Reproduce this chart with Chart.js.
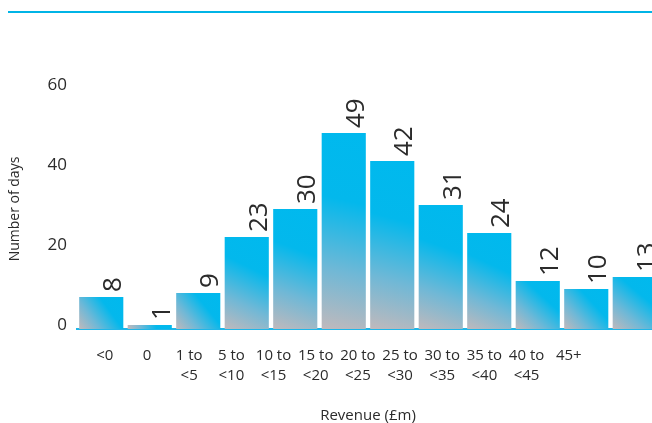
<!DOCTYPE html>
<html>
<head>
<meta charset="utf-8">
<script src="https://cdn.jsdelivr.net/npm/chart.js@4"></script>
<style>
  html, body { margin: 0; padding: 0; background: #fff; overflow: hidden; }
  #rule { position: absolute; left: 8px; top: 11px; width: 660px; height: 2px; background: #00b4e6; }
  #wrap { position: absolute; left: 0; top: 0; width: 659px; height: 423px; }
</style>
</head>
<body>
<div id="rule"></div>
<div id="wrap"><canvas id="chart1"></canvas></div>
<script>
// Revenue bands (£m) and number of days in each
const bands = ["<0", "0", ["1 to", "<5"], ["5 to", "<10"], ["10 to", "<15"], ["15 to", "<20"],
  ["20 to", "<25"], ["25 to", "<30"], ["30 to", "<35"], ["35 to", "<40"], ["40 to", "<45"], "45+"];
const days = [8, 1, 9, 23, 30, 49, 42, 31, 24, 12, 10, 13];
const yTicks = [0, 20, 40, 60];

const textColor = "#2b2b2b";
const fontFamily = "'Open Sans', 'Noto Sans', sans-serif";

// value labels, rotated, sitting on top of each bar
const valueLabels = {
  id: "valueLabels",
  afterDatasetsDraw(chart) {
    const ctx = chart.ctx;
    const meta = chart.getDatasetMeta(0);
    ctx.save();
    ctx.font = "26px " + fontFamily;
    ctx.fillStyle = textColor;
    ctx.textAlign = "left";
    ctx.textBaseline = "alphabetic";
    meta.data.forEach((bar, i) => {
      ctx.save();
      ctx.translate(bar.x + 20, bar.y - 5);
      ctx.rotate(-Math.PI / 2);
      ctx.fillText(String(days[i]), 0, 0);
      ctx.restore();
    });
    ctx.restore();
  },
};

function barFill(c) {
  const chart = c.chart;
  const x = chart.scales.x;
  const y = chart.scales.y;
  if (!chart.chartArea || !x || !y || c.dataIndex === undefined) return "#00b9ee";
  const cx = x.getPixelForValue(c.dataIndex);
  const half = (x.width / days.length) * 0.91 / 2;
  const top = y.getPixelForValue(days[c.dataIndex]);
  const bottom = y.getPixelForValue(0);
  const g = chart.ctx.createLinearGradient(cx + half, top, cx - half, bottom);
  g.addColorStop(0, "#00b9ee");
  g.addColorStop(0.35, "#03b8ec");
  g.addColorStop(0.7, "#70b8d6");
  g.addColorStop(1, "#c0b9bc");
  return g;
}

const ctx1 = document.getElementById("chart1").getContext("2d");
const chart1 = new Chart(ctx1, {
  type: "bar",
  data: {
    labels: bands,
    datasets: [
      {
        label: "Number of days",
        data: days,
        backgroundColor: barFill,
        borderWidth: 0,
        barPercentage: 0.91,
        categoryPercentage: 1,
      },
    ],
  },
  options: {
    responsive: true,
    maintainAspectRatio: false,
    animation: false,
    layout: { padding: { top: 89, right: 0, left: 0, bottom: 0 } },
    plugins: {
      legend: { display: false },
      tooltip: { enabled: false },
    },
    scales: {
      x: {
        grid: { display: false, drawTicks: false },
        border: { display: true, color: "#1fb6e8", width: 2 },
        ticks: { display: false },
        afterFit: (s) => { s.height = 0; },
      },
      // label row, spaced a little tighter than the bars
      xl: {
        type: "linear",
        position: "bottom",
        weight: 1,
        offset: false,
        bounds: "data",
        min: -0.66,
        max: 13.14,
        grid: { display: false, drawTicks: false, offset: false },
        border: { display: false },
        afterBuildTicks: (s) => { s.ticks = bands.map((b, i) => ({ value: i })); },
        ticks: {
          autoSkip: false,
          maxRotation: 0,
          padding: 17,
          color: textColor,
          font: { family: fontFamily, size: 15, lineHeight: 1.33 },
          callback: (v) => bands[v],
        },
        title: {
          display: true,
          text: "Revenue (£m)",
          color: textColor,
          font: { family: fontFamily, size: 15, lineHeight: 0.95 },
          padding: { top: 16, bottom: 0 },
        },
        afterFit: (s) => { s.height = 94; },
      },
      y: {
        min: 0,
        max: 60,
        grid: { display: false, drawTicks: false },
        border: { display: false },
        afterBuildTicks: (s) => { s.ticks = yTicks.map((v) => ({ value: v })); },
        ticks: {
          padding: 10,
          labelOffset: -4,
          color: textColor,
          font: { family: fontFamily, size: 17 },
        },
        title: {
          display: true,
          text: "Number of days",
          color: textColor,
          font: { family: fontFamily, size: 14 },
          padding: { top: 7, bottom: 0 },
        },
        afterFit: (s) => { s.width = 77; },
      },
    },
  },
  plugins: [valueLabels],
});
</script>
</body>
</html>
